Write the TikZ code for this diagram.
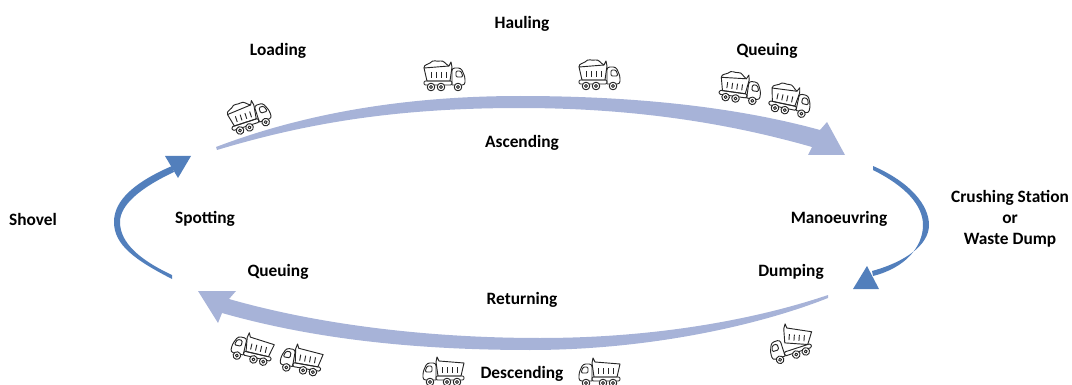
\documentclass[tikz,border=0pt]{standalone}
\usepackage{fontspec}
\setmainfont{Carlito}
\usepackage{tikz}
\definecolor{bandlight}{HTML}{A7B3D8}
\definecolor{banddark}{HTML}{527FBC}
\tikzset{
  phase/.style={font=\bfseries\fontsize{13}{15.75}\selectfont, align=center, inner sep=0pt},
  lorryline/.style={draw=black!85, line width=0.7pt, line join=round},
  pics/lorrybase/.style={code={
    \draw[lorryline, rounded corners=1] (-20,5) -- (8,5) -- (8,9) -- (-20,9) -- cycle;
    \draw[lorryline, rounded corners=2] (8,9) -- (8,-8) -- (17,-8) -- (21,1) -- (21,9) -- (8,9);
    \draw[lorryline, rounded corners=1] (12,-5) -- (17,-5) -- (19,1) -- (12,1) -- cycle;
    \foreach \wx in {-13,-3,14} {
      \draw[lorryline, fill=white] (\wx,11) circle (3.8);
      \draw[lorryline] (\wx,11) circle (1.5);
    }
  }},
  pics/lorrybox/.style={code={
    \draw[lorryline] (-20,-8) -- (5,-10) -- (7,-14) -- (8,-9) -- (6,5) -- (-17,5) -- cycle;
    \foreach \rx in {-13,-8,-3,2} {\draw[lorryline] (\rx,-4) -- (\rx,2);}
  }},
  pics/lorryheap/.style={code={
    \draw[lorryline] (-20,-8) .. controls (-20,-12) and (-16,-11) .. (-14,-13) .. controls (-11,-17) and (-7,-14) .. (-4,-15) .. controls (0,-16) and (1,-12) .. (5,-10);
  }},
  pics/loadedlorry/.style={code={
    \pic[transform shape] {lorrybase}; \pic[transform shape] {lorrybox}; \pic[transform shape] {lorryheap};
  }},
  pics/emptylorry/.style={code={
    \pic[transform shape] {lorrybase}; \pic[transform shape] {lorrybox};
  }},
  pics/tippinglorry/.style={code={
    \pic[transform shape] {lorrybase};
    \begin{scope}[shift={(-17,5)}, rotate=22, shift={(17,-5)}]
      \pic[transform shape] {lorrybox};
    \end{scope}
  }},
}

\begin{document}
\begin{tikzpicture}[x=0.75pt, y=-0.75pt]
\useasboundingbox (0,0) rectangle (1072,385);
% ends of the four arrows
\coordinate (loadend) at (216,147);
\coordinate (queuetip) at (845,155);
\coordinate (craneend) at (873,166);
\coordinate (dumptip) at (853,289);
\coordinate (dumpend) at (828,295);
\coordinate (returntip) at (198,291);
\coordinate (shovelend) at (172,279);
\coordinate (spottip) at (178,178);
% hauling arrow
\fill[bandlight] (loadend) .. controls (300,115) and (400,96) .. (520,96) .. controls (640,96) and (740,108) .. (820,130) -- (827,122) -- (queuetip) -- (808,155) -- (812,147) .. controls (735,125) and (640,108) .. (520,108) .. controls (400,108) and (310,122) .. (217,150) -- cycle;
% manoeuvring arrow
\fill[banddark] (craneend) .. controls (910,182) and (929,205) .. (929,225) .. controls (929,245) and (905,262) .. (872,271) -- (873,276) .. controls (905,268) and (923,247) .. (923,225) .. controls (923,205) and (905,186) .. (873,170) -- cycle;
\fill[banddark] (867,266) -- (879,289) -- (dumptip) -- cycle;
% returning arrow
\fill[bandlight] (dumpend) .. controls (760,318) and (660,338) .. (540,338) .. controls (430,338) and (320,325) .. (229,299) -- (236,291) -- (returntip) -- (218,323) -- (222,313) .. controls (310,338) and (410,350) .. (530,350) .. controls (650,350) and (760,325) .. (828,298) -- cycle;
% spotting arrow
\fill[banddark] (shovelend) .. controls (135,260) and (114,245) .. (114,222) .. controls (114,200) and (135,182) .. (172,166) -- (174,172) .. controls (140,188) and (120,205) .. (120,222) .. controls (120,243) and (140,260) .. (172,275) -- cycle;
\fill[banddark] (165,156) -- (191,156) -- (spottip) -- cycle;
% labels
\node[phase] (hauling) at (522,24) {Hauling};
\node[phase] (loading) at (278,51) {Loading};
\node[phase] (queuetop) at (767,51) {Queuing};
\node[phase] (ascending) at (522,143) {Ascending};
\node[phase] (shovel) at (33,219) {Shovel};
\node[phase] (spotting) at (205,219) {Spotting};
\node[phase] (manoeuvring) at (839,219) {Manoeuvring};
\node[phase] (station) at (1010,219) {Crushing Station\\or\\Waste Dump};
\node[phase] (dumping) at (791,272) {Dumping};
\node[phase] (queuebottom) at (278,272) {Queuing};
\node[phase] (returning) at (522,300) {Returning};
\node[phase] (descending) at (522,374) {Descending};
% trucks
\pic[rotate=18] (loadtruck) at (249,116) {loadedlorry};
\pic (hauli) at (444,76) {loadedlorry};
\pic (haulii) at (599,75) {loadedlorry};
\pic[rotate=-8] (queuei) at (740,88) {loadedlorry};
\pic[rotate=-12] (queueii) at (790,100) {loadedlorry};
\pic[rotate=18, xscale=-1] (tipper) at (790,345) {tippinglorry};
\pic[rotate=-13, xscale=-1] (waiti) at (253,348) {emptylorry};
\pic[rotate=-10, xscale=-1] (waitii) at (302,359) {emptylorry};
\pic[xscale=-1] (desci) at (444,371) {emptylorry};
\pic[xscale=-1] (descii) at (600,372) {emptylorry};
\end{tikzpicture}
\end{document}
